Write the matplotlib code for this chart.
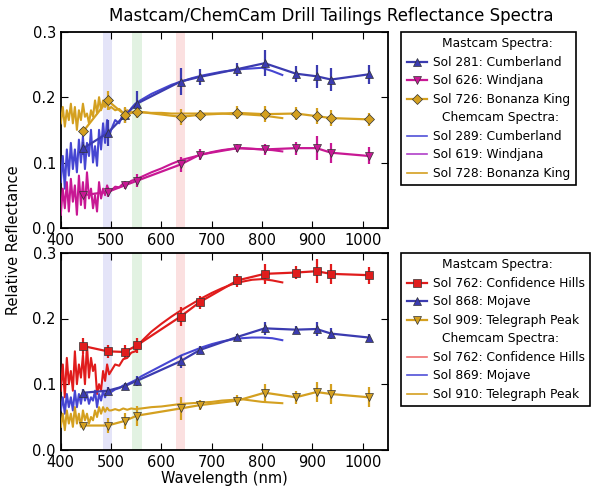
import numpy as np
from matplotlib import pyplot as plt
from matplotlib.lines import Line2D

# Mastcam filter centres (nm)
mc_wl = [445, 493, 527, 551, 638, 676, 751, 805, 867, 908, 937, 1012]

# top panel, mastcam
cumberland_mc = [0.122, 0.145, 0.172, 0.19, 0.224, 0.231, 0.243, 0.252, 0.236, 0.232, 0.227, 0.235]
cumberland_err = [0.01, 0.02, 0.012, 0.02, 0.02, 0.012, 0.01, 0.02, 0.012, 0.018, 0.018, 0.015]
windjana_mc = [0.05, 0.055, 0.065, 0.072, 0.097, 0.112, 0.122, 0.12, 0.122, 0.122, 0.115, 0.11]
windjana_err = [0.005, 0.008, 0.006, 0.01, 0.012, 0.008, 0.006, 0.008, 0.01, 0.018, 0.015, 0.013]
bonanza_mc = [0.148, 0.195, 0.173, 0.178, 0.17, 0.173, 0.176, 0.174, 0.175, 0.171, 0.168, 0.166]
bonanza_err = [0.005, 0.015, 0.012, 0.01, 0.012, 0.008, 0.01, 0.012, 0.01, 0.012, 0.012, 0.01]

# bottom panel, mastcam
confidence_mc = [0.158, 0.15, 0.149, 0.159, 0.203, 0.225, 0.258, 0.268, 0.27, 0.272, 0.268, 0.266]
confidence_err = [0.012, 0.01, 0.01, 0.012, 0.015, 0.01, 0.01, 0.015, 0.01, 0.018, 0.015, 0.013]
mojave_mc = [0.087, 0.09, 0.097, 0.105, 0.135, 0.152, 0.172, 0.185, 0.183, 0.184, 0.177, 0.171]
mojave_err = [0.005, 0.006, 0.005, 0.008, 0.01, 0.006, 0.005, 0.01, 0.006, 0.01, 0.008, 0.006]
telegraph_mc = [0.037, 0.037, 0.044, 0.052, 0.063, 0.068, 0.075, 0.087, 0.08, 0.088, 0.085, 0.08]
telegraph_err = [0.006, 0.012, 0.012, 0.015, 0.018, 0.008, 0.008, 0.014, 0.01, 0.015, 0.015, 0.015]

# ChemCam passive spectra
cc_wl = [400, 404, 408, 412, 416, 420, 424, 428, 432, 436, 440, 444, 448, 452, 456, 460,
         464, 468, 472, 476, 480, 484, 488, 492, 496,
         500, 508, 516, 524, 532, 540, 548,
         560, 580, 600, 620, 640, 660, 680, 700, 720, 740, 760, 780, 800, 820, 840]

cumberland_cc = [0.07, 0.11, 0.06, 0.12, 0.08, 0.13, 0.09, 0.12, 0.085, 0.135, 0.10, 0.14, 0.09,
                 0.13, 0.11, 0.15, 0.10, 0.125, 0.095, 0.15, 0.12, 0.16, 0.13, 0.165, 0.14,
                 0.15, 0.165, 0.16, 0.175, 0.172, 0.183, 0.19,
                 0.196, 0.205, 0.212, 0.219, 0.224, 0.229, 0.233, 0.236, 0.239, 0.241, 0.243,
                 0.244, 0.245, 0.24, 0.234]
windjana_cc = [0.02, 0.06, 0.03, 0.07, 0.025, 0.075, 0.04, 0.065, 0.02, 0.08, 0.035, 0.07, 0.03,
               0.085, 0.045, 0.06, 0.03, 0.05, 0.025, 0.07, 0.045, 0.06, 0.05, 0.065, 0.055,
               0.057, 0.063, 0.062, 0.068, 0.067, 0.072, 0.074,
               0.078, 0.085, 0.091, 0.098, 0.104, 0.108, 0.112, 0.116, 0.119, 0.121, 0.122,
               0.121, 0.12, 0.119, 0.117]
bonanza_cc = [0.16, 0.185, 0.155, 0.18, 0.165, 0.19, 0.16, 0.185, 0.15, 0.18, 0.165, 0.19, 0.17,
              0.175, 0.16, 0.18, 0.17, 0.195, 0.175, 0.2, 0.18, 0.195, 0.185, 0.19, 0.182,
              0.185, 0.18, 0.182, 0.176, 0.18, 0.177, 0.178,
              0.177, 0.176, 0.176, 0.175, 0.175, 0.175, 0.175, 0.175, 0.175, 0.174, 0.174,
              0.173, 0.172, 0.17, 0.168]
confidence_cc = [0.09, 0.13, 0.08, 0.14, 0.10, 0.12, 0.09, 0.15, 0.10, 0.13, 0.11, 0.145, 0.10,
                 0.16, 0.11, 0.14, 0.12, 0.13, 0.085, 0.10, 0.09, 0.12, 0.105, 0.13, 0.115,
                 0.12, 0.13, 0.128, 0.138, 0.14, 0.148, 0.15,
                 0.165, 0.18, 0.192, 0.203, 0.213, 0.222, 0.231, 0.239, 0.246, 0.252, 0.256,
                 0.259, 0.26, 0.258, 0.255]
mojave_cc = [0.06, 0.08, 0.055, 0.085, 0.065, 0.08, 0.06, 0.09, 0.065, 0.085, 0.07, 0.09, 0.075,
             0.085, 0.07, 0.08, 0.075, 0.09, 0.065, 0.085, 0.075, 0.09, 0.08, 0.09, 0.085,
             0.088, 0.092, 0.094, 0.098, 0.1, 0.103, 0.106,
             0.112, 0.12, 0.128, 0.136, 0.144, 0.15, 0.156, 0.161, 0.165, 0.168, 0.17,
             0.171, 0.171, 0.17, 0.167]
telegraph_cc = [0.035, 0.055, 0.03, 0.06, 0.04, 0.055, 0.035, 0.065, 0.04, 0.055, 0.035, 0.06, 0.045,
                0.055, 0.04, 0.05, 0.045, 0.06, 0.05, 0.065, 0.055, 0.065, 0.058, 0.064, 0.06,
                0.06, 0.062, 0.06, 0.063, 0.061, 0.063, 0.062,
                0.063, 0.065, 0.066, 0.068, 0.07, 0.071, 0.072, 0.073, 0.075, 0.076, 0.077,
                0.075, 0.073, 0.072, 0.071]

BLUE = '#3b3bb0'
BLUE_CC = '#4646d2'
MAGENTA = '#c81894'
PURPLE_CC = '#b040c8'
GOLD = '#d4a020'
RED = '#e01c1c'


def setup_axes(ax):
    ax.axvspan(484, 501, color='#e4e4f8', lw=0)
    ax.axvspan(541, 561, color='#e2f2e2', lw=0)
    ax.axvspan(628, 646, color='#fbe0e0', lw=0)
    ax.set_xlim(400, 1050)
    ax.set_ylim(0, 0.3)
    ax.set_xticks([400, 500, 600, 700, 800, 900, 1000])
    ax.set_yticks([0.0, 0.1, 0.2, 0.3])
    ax.tick_params(direction='in', top=True, right=True, labelsize=10.5, length=5)
    for s in ax.spines.values():
        s.set_linewidth(1.3)


def mastcam(ax, y, err, color, marker, label, ms=6):
    ax.errorbar(mc_wl, y, yerr=err, color=color, marker=marker, ms=ms, lw=1.6,
                elinewidth=1.6, capsize=0, mec='#333333', mew=0.5, zorder=4)
    return Line2D([], [], color=color, marker=marker, ms=ms, lw=1.6,
                  mec='#333333', mew=0.5, label=label)


def chemcam(ax, y, color, label):
    ax.plot(cc_wl, y, color=color, lw=1.5, zorder=3)
    return Line2D([], [], color=color, lw=1.2, label=label)


def header(text):
    return Line2D([], [], color='none', label=text)


def add_legend(ax, handles):
    leg = ax.legend(handles=handles, loc='upper left', bbox_to_anchor=(1.04, 1.0),
                    fontsize=8.8, fancybox=False, edgecolor='black', framealpha=1,
                    borderaxespad=0, handlelength=1.7, handletextpad=0.45,
                    labelspacing=0.45, borderpad=0.45)
    leg.get_frame().set_linewidth(1.2)
    # headers sit a bit to the right, as in the original
    for t, hd in zip(leg.get_texts(), handles):
        if hd.get_color() == 'none':
            t.set_position((9, 0))


fig = plt.figure(figsize=(5.96, 4.9), dpi=100)
ax1 = fig.add_axes([0.102, 0.535, 0.549, 0.4])
ax2 = fig.add_axes([0.102, 0.082, 0.549, 0.402])

setup_axes(ax1)
h = [header('Mastcam Spectra:')]
c = [header('Chemcam Spectra:')]
c.append(chemcam(ax1, cumberland_cc, BLUE_CC, 'Sol 289: Cumberland'))
c.append(chemcam(ax1, windjana_cc, MAGENTA, 'Sol 619: Windjana'))
c.append(chemcam(ax1, bonanza_cc, GOLD, 'Sol 728: Bonanza King'))
h.append(mastcam(ax1, cumberland_mc, cumberland_err, BLUE, '^', 'Sol 281: Cumberland'))
h.append(mastcam(ax1, windjana_mc, windjana_err, MAGENTA, 'v', 'Sol 626: Windjana'))
h.append(mastcam(ax1, bonanza_mc, bonanza_err, GOLD, 'D', 'Sol 726: Bonanza King', ms=5))
c[1].set_color('#5050d8')
c[2].set_color(PURPLE_CC)
add_legend(ax1, h + c)

setup_axes(ax2)
h = [header('Mastcam Spectra:')]
c = [header('Chemcam Spectra:')]
c.append(chemcam(ax2, confidence_cc, RED, 'Sol 762: Confidence Hills'))
c.append(chemcam(ax2, mojave_cc, BLUE_CC, 'Sol 869: Mojave'))
c.append(chemcam(ax2, telegraph_cc, GOLD, 'Sol 910: Telegraph Peak'))
h.append(mastcam(ax2, confidence_mc, confidence_err, RED, 's', 'Sol 762: Confidence Hills'))
h.append(mastcam(ax2, mojave_mc, mojave_err, BLUE, '^', 'Sol 868: Mojave'))
h.append(mastcam(ax2, telegraph_mc, telegraph_err, GOLD, 'v', 'Sol 909: Telegraph Peak'))
c[1].set_color('#f07070')
c[2].set_color('#5050d8')
add_legend(ax2, h + c)
ax2.set_xlabel('Wavelength (nm)', fontsize=10.5, labelpad=1)

fig.text(0.555, 0.968, 'Mastcam/ChemCam Drill Tailings Reflectance Spectra',
         ha='center', va='center', fontsize=12)
fig.text(0.022, 0.51, 'Relative Reflectance', rotation=90, ha='center', va='center',
         fontsize=10.5)

plt.savefig('out.png', dpi=100)
